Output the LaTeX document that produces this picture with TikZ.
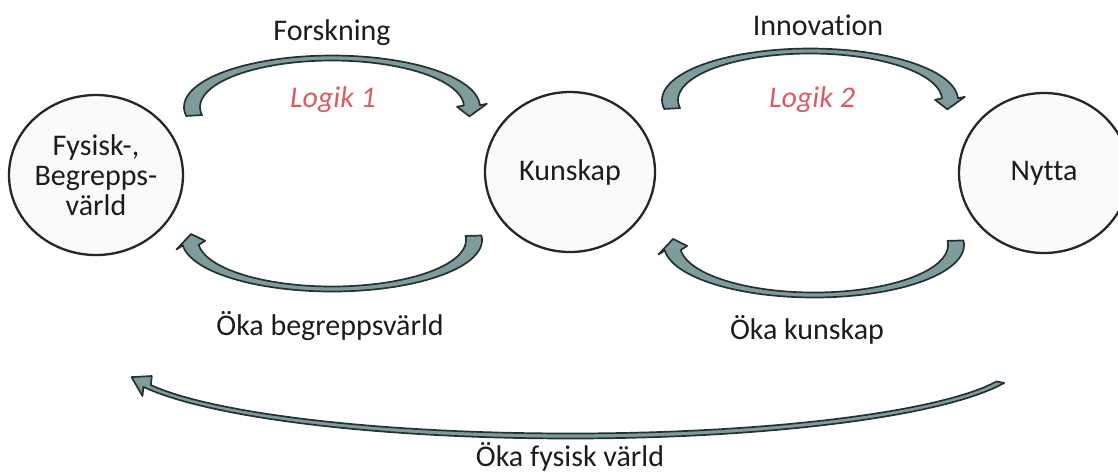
\documentclass[tikz,border=0pt]{standalone}
\usepackage{fontspec}
\setmainfont{Carlito}[Ligatures=NoCommon]
\usetikzlibrary{shapes.geometric}

\definecolor{bowfill}{RGB}{126,156,156}
\definecolor{bowline}{RGB}{38,48,48}
\definecolor{logikred}{RGB}{218,92,98}
\definecolor{textdark}{RGB}{28,28,28}

\tikzset{
  world/.style={ellipse, draw=black!85, line width=1.15pt, fill=black!2, inner sep=0pt,
    minimum width=85pt, minimum height=80pt, align=center, text=textdark,
    font=\fontsize{15}{15}\selectfont},
  lbl/.style={text=textdark, font=\fontsize{15}{18}\selectfont},
  logik/.style={text=logikred, font=\fontsize{15}{18}\selectfont\itshape},
  bow/.style={draw=bowline, fill=bowfill, line width=0.85pt, line join=round},
}

% curved block arrow: cx, cy, x radius, y radius, half width x, half width y, tail, head, tip
\newcommand{\bowarrow}[9]{%
  \pgfmathsetmacro\bowhw{#5+7}
  \pgfmathsetmacro\bownx{cos(#8)*#4/#3}
  \pgfmathsetmacro\bowny{sin(#8)}
  \pgfmathsetmacro\bownn{veclen(\bownx,\bowny)}
  \pgfmathsetmacro\bowbx{#1+#3*cos(#8)}
  \pgfmathsetmacro\bowby{#2+#4*sin(#8)}
  \filldraw[bow] plot[domain=#7:#8, samples=60] ({#1+(#3+#5)*cos(\x)}, {#2+(#4+#6)*sin(\x)})
    -- ({\bowbx+\bowhw*\bownx/\bownn}, {\bowby+\bowhw*\bowny/\bownn})
    -- ({#1+#3*cos(#9)}, {#2+#4*sin(#9)})
    -- ({\bowbx-\bowhw*\bownx/\bownn}, {\bowby-\bowhw*\bowny/\bownn})
    -- plot[domain=#8:#7, samples=60] ({#1+(#3-#5)*cos(\x)}, {#2+(#4-#6)*sin(\x)})
    -- cycle;}

\begin{document}
\begin{tikzpicture}[x=0.5pt, y=-0.5pt]
	\useasboundingbox (0,0) rectangle (1118,473);
	\node[world, minimum width=87pt] (fys) at (96,175) {Fysisk-,\\Begrepps-\\värld};
	\node[world] (kun) at (570,172) {Kunskap};
	\node[world] (nyt) at (1044,173) {Nytta};
	 % upper arrows
	 \bowarrow{332}{107}{140}{49}{8}{2.5}{170}{358}{371}
	 \bowarrow{810}{100}{140}{49}{8}{2.5}{170}{358}{371}
	 % lower arrows
	 \bowarrow{332}{240}{142}{49}{8}{2.5}{-5}{174}{187}
	 \bowarrow{814}{245}{142}{50}{8}{2.5}{-5}{174}{187}
	 \bowarrow{570}{360}{450}{76}{4}{2.5}{17}{160}{167}
	\node[lbl] (forsk) at (332,33) {Forskning};
	\node[lbl] (innov) at (818,25) {Innovation};
	\node[logik] (lg1) at (333,100) {Logik 1};
	\node[logik] (lg2) at (812,100) {Logik 2};
	\node[lbl] (okab) at (330,326) {Öka begreppsvärld};
	\node[lbl] (okak) at (807,330) {Öka kunskap};
	\node[lbl] (okaf) at (570,457) {Öka fysisk värld};
\end{tikzpicture}
\end{document}
